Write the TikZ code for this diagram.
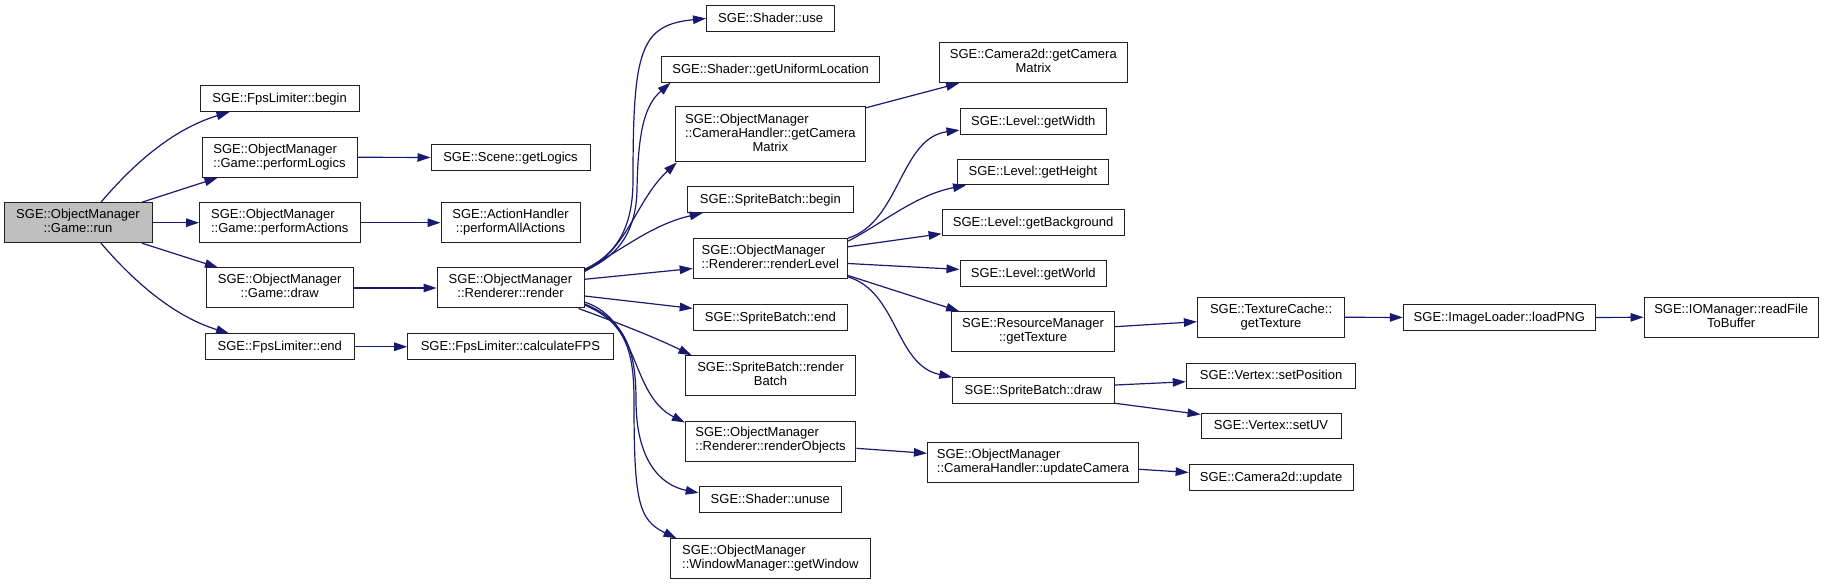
\documentclass[tikz,border=0pt]{standalone}
\usepackage{fontspec}
\setmainfont{Liberation Sans}
\usetikzlibrary{arrows.meta,calc}
\definecolor{edgeblue}{HTML}{191970}
\definecolor{rootgray}{HTML}{BFBFBF}
\definecolor{boxline}{HTML}{202020}
\newcommand\Ltwo[2]{\begin{tabular}{@{}l@{}}#1\\\multicolumn{1}{@{}c@{}}{#2}\end{tabular}}
\newcommand\Lthree[3]{\begin{tabular}{@{}l@{}}#1\\#2\\\multicolumn{1}{@{}c@{}}{#3}\end{tabular}}
\newcommand\bx[7]{\pgfmathsetmacro\bxw{#4-#2}\pgfmathsetmacro\bxh{#5-#3}\pgfmathsetmacro\bxx{(#2+#4)/2}\pgfmathsetmacro\bxy{(#3+#5)/2}\node[box,#7,minimum width=\bxw pt,minimum height=\bxh pt] (#1) at (\bxx,\bxy) {#6};}
\tikzset{
  box/.style={draw=boxline, line width=1pt, fill=white, rectangle, inner sep=2pt, font=\fontsize{13}{14}\selectfont},
  one/.style={text height=10pt, text depth=2.3pt},
  cn/.style={draw=edgeblue, line width=1.2pt, -{Triangle[length=13pt,width=8.5pt]}}
}
\begin{document}
\begin{tikzpicture}[x=1pt,y=-1pt]
\fill[white] (0,0) rectangle (1824,585);
\useasboundingbox (0,0) rectangle (1824,585);
% nodes
\bx{run}{4}{202.7}{152}{242.7}{\Ltwo{SGE::ObjectManager}{::Game::run}}{fill=rootgray}
\bx{fbegin}{200}{86}{359.3}{111.5}{SGE::FpsLimiter::begin}{one}
\bx{plogics}{202}{137.3}{357}{177.3}{\Ltwo{SGE::ObjectManager}{::Game::performLogics}}{}
\bx{pactions}{199.5}{202.7}{360}{242.7}{\Ltwo{SGE::ObjectManager}{::Game::performActions}}{}
\bx{gdraw}{206.4}{268}{353}{308}{\Ltwo{SGE::ObjectManager}{::Game::draw}}{}
\bx{fend}{205.6}{334}{354}{359.5}{SGE::FpsLimiter::end}{one}
\bx{getlogics}{431}{144.7}{590}{170.2}{SGE::Scene::getLogics}{one}
\bx{pallactions}{441}{202.7}{580}{242.7}{\Ltwo{SGE::ActionHandler}{::performAllActions}}{}
\bx{render}{437}{268}{584}{308}{\Ltwo{SGE::ObjectManager}{::Renderer::render}}{}
\bx{calcfps}{407.7}{334}{613}{359.5}{SGE::FpsLimiter::calculateFPS}{one}
\bx{use}{706.5}{5.7}{834.7}{31.2}{SGE::Shader::use}{one}
\bx{uniform}{661.5}{56.7}{879.7}{82.2}{SGE::Shader::getUniformLocation}{one}
\bx{chmatrix}{675.3}{107}{865.4}{162}{\Lthree{SGE::ObjectManager}{::CameraHandler::getCamera}{Matrix}}{}
\bx{sbbegin}{687.7}{187}{853}{212.5}{SGE::SpriteBatch::begin}{one}
\bx{rlevel}{693.2}{238.7}{847.5}{278.7}{\Ltwo{SGE::ObjectManager}{::Renderer::renderLevel}}{}
\bx{sbend}{693.2}{304.7}{847.5}{330.2}{SGE::SpriteBatch::end}{one}
\bx{rbatch}{685.4}{355.7}{855.8}{395.7}{\Ltwo{SGE::SpriteBatch::render}{Batch}}{}
\bx{robjects}{685.4}{421}{855.8}{461}{\Ltwo{SGE::ObjectManager}{::Renderer::renderObjects}}{}
\bx{unuse}{699.2}{486.7}{841.5}{512.2}{SGE::Shader::unuse}{one}
\bx{getwindow}{670.7}{538.7}{870}{578.7}{\Ltwo{SGE::ObjectManager}{::WindowManager::getWindow}}{}
\bx{c2dmatrix}{939.4}{42.7}{1127.2}{82.7}{\Ltwo{SGE::Camera2d::getCamera}{Matrix}}{}
\bx{lwidth}{960}{108.7}{1106.5}{134.2}{SGE::Level::getWidth}{one}
\bx{lheight}{957.7}{159.3}{1108.3}{184.8}{SGE::Level::getHeight}{one}
\bx{background}{942.1}{209.7}{1124}{235.2}{SGE::Level::getBackground}{one}
\bx{world}{960}{260.7}{1106.5}{286.2}{SGE::Level::getWorld}{one}
\bx{rmtexture}{951.8}{311.7}{1114.3}{351.7}{\Ltwo{SGE::ResourceManager}{::getTexture}}{}
\bx{sbdraw}{952.7}{377.7}{1114}{403.2}{SGE::SpriteBatch::draw}{one}
\bx{updatecam}{927.4}{442.7}{1138.7}{482.7}{\Ltwo{SGE::ObjectManager}{::CameraHandler::updateCamera}}{}
\bx{tctexture}{1197.4}{297.3}{1344.7}{337.3}{\Ltwo{SGE::TextureCache::}{getTexture}}{}
\bx{loadpng}{1403.3}{304.7}{1595.4}{330.2}{SGE::ImageLoader::loadPNG}{one}
\bx{readfile}{1644}{297.3}{1818.4}{337.3}{\Ltwo{SGE::IOManager::readFile}{ToBuffer}}{}
\bx{setpos}{1186.3}{363.3}{1355.8}{388.8}{SGE::Vertex::setPosition}{one}
\bx{setuv}{1201.1}{413.3}{1341}{438.8}{SGE::Vertex::setUV}{one}
\bx{c2dupdate}{1189.1}{464.7}{1353}{490.2}{SGE::Camera2d::update}{one}
% connectors from run
\draw[cn] ($(run.north)+(23,0)$) .. controls (130,168) and (170,130) .. ($(fbegin.south west)+(30,0)$);
\draw[cn] ($(run.north east)+(-10.5,0)$) -- ($(plogics.south west)+(16,0)$);
\draw[cn] (run.east) -- (pactions.west);
\draw[cn] ($(run.south east)+(-10.5,0)$) -- ($(gdraw.north west)+(12,0)$);
\draw[cn] ($(run.south)+(23,0)$) .. controls (130,277) and (170,315) .. ($(fend.north west)+(24,0)$);
\draw[cn] (plogics.east) -- (getlogics.west);
\draw[cn] (pactions.east) -- (pallactions.west);
\draw[cn] (gdraw.east) -- (render.west);
\draw[cn] (fend.east) -- (calcfps.west);
% render fan
\draw[cn] ($(render.north east)+(0,2)$) .. controls (615,255) and (633,230) .. (633,180) .. controls (633,50) and (640,25) .. (use.west);
\draw[cn] ($(render.north east)+(0,3)$) .. controls (615,258) and (636,235) .. (637,190) .. controls (638,130) and (645,105) .. ($(uniform.south west)+(9.5,0)$);
\draw[cn] ($(render.north east)+(0,4)$) .. controls (628,250) and (636,200) .. ($(chmatrix.south west)+(2,0)$);
\draw[cn] ($(render.north east)+(0,2)$) .. controls (620,252) and (650,225) .. ($(sbbegin.south west)+(15.5,0)$);
\draw[cn] ($(render.east)+(0,-8.7)$) -- ($(rlevel.west)+(0,9.8)$);
\draw[cn] ($(render.east)+(0,8)$) -- ($(sbend.west)+(0,-9)$);
\draw[cn] ($(render.south east)+(-6,0)$) .. controls (610,320) and (650,335) .. ($(rbatch.north west)+(6.6,0)$);
\draw[cn] ($(render.east)+(0,14)$) .. controls (640,320) and (630,395) .. ($(robjects.north west)+(0,2)$);
\draw[cn] ($(render.east)+(0,16)$) .. controls (625,320) and (636,350) .. (636,400) .. controls (636,460) and (660,485) .. ($(unuse.west)+(0,-6.5)$);
\draw[cn] ($(render.east)+(0,17)$) .. controls (625,322) and (634,350) .. (634,400) .. controls (634,500) and (638,520) .. ($(getwindow.north west)+(6.3,0)$);
% further connectors
\draw[cn] ($(chmatrix.north east)+(0,1.3)$) -- ($(c2dmatrix.south west)+(20.2,0)$);
\draw[cn] (rlevel.north east) .. controls (900,222) and (900,138) .. ($(lwidth.west)+(0,8.6)$);
\draw[cn] ($(rlevel.north east)+(0,3)$) .. controls (880,225) and (915,195) .. ($(lheight.south west)+(8.8,0)$);
\draw[cn] ($(rlevel.north east)+(0,8.6)$) -- ($(background.south west)+(0,-2)$);
\draw[cn] ($(rlevel.east)+(0,4.8)$) -- ($(world.west)+(0,-4)$);
\draw[cn] ($(rlevel.south east)+(0,-3.7)$) -- ($(rmtexture.north west)+(7.8,0)$);
\draw[cn] ($(rlevel.south east)+(0,-2.3)$) .. controls (898,292) and (895,365) .. (sbdraw.north west);
\draw[cn] ($(robjects.east)+(0,7.3)$) -- ($(updatecam.west)+(0,-9.4)$);
\draw[cn] ($(rmtexture.east)+(0,-5)$) -- ($(tctexture.west)+(0,4.4)$);
\draw[cn] (tctexture.east) -- (loadpng.west);
\draw[cn] (loadpng.east) -- (readfile.west);
\draw[cn] ($(sbdraw.east)+(0,-5.4)$) -- ($(setpos.west)+(0,5.7)$);
\draw[cn] ($(sbdraw.south east)+(0,-0.5)$) -- ($(setuv.north west)+(0,1.7)$);
\draw[cn] ($(updatecam.east)+(0,6.6)$) -- ($(c2dupdate.west)+(0,-5)$);
\end{tikzpicture}
\end{document}
